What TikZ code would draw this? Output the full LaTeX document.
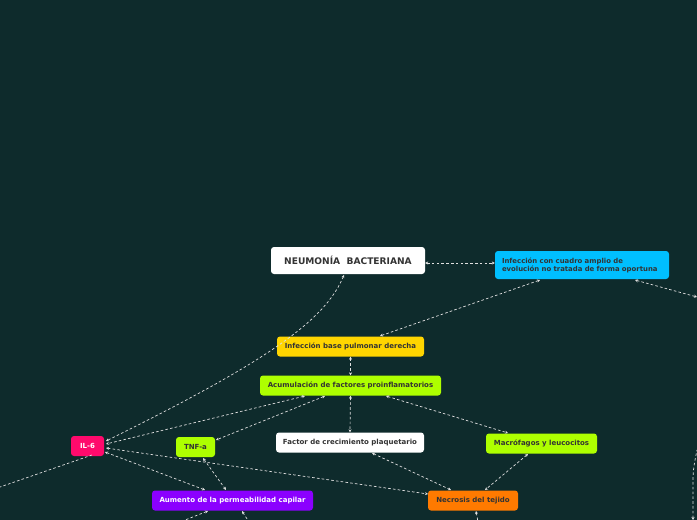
\documentclass[tikz,border=0pt]{standalone}
\usepackage{fontspec}
\setmainfont{DejaVu Sans}
\usetikzlibrary{arrows.meta,calc}
\definecolor{bg}{HTML}{0E2B2C}
\definecolor{cyanb}{HTML}{00BFFF}
\definecolor{yel}{HTML}{FFD500}
\definecolor{lime}{HTML}{AEFF00}
\definecolor{pink}{HTML}{FF0A6C}
\definecolor{purp}{HTML}{8B00FF}
\definecolor{oran}{HTML}{FF7A00}
\definecolor{txt}{HTML}{333333}
\tikzset{
  box/.style={rectangle, rounded corners=3pt, inner sep=0pt, align=center,
    font=\fontsize{7}{8}\selectfont\bfseries, text=txt},
  conn/.style={draw=white!88!black, line width=0.7pt, dash pattern=on 2.6pt off 2.2pt,
    {Stealth[length=3pt,width=3pt]}-{Stealth[length=3pt,width=3pt]}},
}
\begin{document}
\begin{tikzpicture}[x=1pt,y=-1pt]
\fill[bg] (0,0) rectangle (697,520);
\useasboundingbox (0,0) rectangle (697,520);
\node[box, fill=white, minimum width=154, minimum height=27,
  font=\fontsize{9.1}{10}\selectfont\bfseries] (neu) at (348,260.5) {NEUMONÍA\ \ BACTERIANA};
\node[box, fill=cyanb, minimum width=174, minimum height=28, align=left,
  font=\fontsize{6.9}{8}\selectfont\bfseries, text width=160] (inf) at (582,265)
  {Infección con cuadro amplio de\\evolución no tratada de forma oportuna};
\node[box, fill=yel, minimum width=147, minimum height=20] (base) at (350.5,346.5) {Infección base pulmonar derecha};
\node[box, fill=lime, minimum width=181, minimum height=20] (acum) at (350.5,385.5) {Acumulación de factores proinflamatorios};
\node[box, fill=pink, minimum width=33, minimum height=20, text=white] (il6) at (87.5,446) {IL-6};
\node[box, fill=lime, minimum width=39, minimum height=20] (tnf) at (195.5,447) {TNF-a};
\node[box, fill=white, minimum width=148, minimum height=20] (fac) at (350,442.5) {Factor de crecimiento plaquetario};
\node[box, fill=lime, minimum width=111, minimum height=20] (mac) at (541.5,443.5) {Macrófagos y leucocitos};
\node[box, fill=purp, minimum width=161, minimum height=20, text=white] (aum) at (232.5,500.5) {Aumento de la permeabilidad capilar};
\node[box, fill=oran, minimum width=90, minimum height=20] (nec) at (473,500.5) {Necrosis del tejido};

\coordinate (offL) at (0,487);
\coordinate (offR) at (697,297);
\coordinate (offR2) at (697,450);
\coordinate (offR2b) at (693,520);
\coordinate (offA1) at (180,522);
\coordinate (offA2) at (249,522);
\coordinate (offN) at (478,522);

\draw[conn] ($(neu.east)+(0,2.5)$) -- ($(inf.west)+(0,-2)$);
\draw[conn] (540,280) -- (380,336);
\draw[conn] (635,280) -- (offR);
\draw[conn, {Stealth[length=3pt,width=3pt]}-] (offR2b) -- (693,490) .. controls (693,470) .. (offR2);
\draw[conn] (344,275) .. controls (325,320) and (270,360) .. (106,441);
\draw[conn] (base.south) -- (acum.north);
\draw[conn] (acum.south) -- (fac.north);
\draw[conn] (305,396) -- (106,444);
\draw[conn] (325,396) -- (216,440);
\draw[conn] (386,396) -- (508,433);
\draw[conn] (372,453) -- (451,490);
\draw[conn] (528,454) -- (485,490);
\draw[conn] (106,448) -- (428,494);
\draw[conn] (105,452) -- (205,490);
\draw[conn] (203,458) -- (226,490);
\draw[conn, -] (92,455) -- (offL);
\draw[conn, {Stealth[length=3pt,width=3pt]}-] (208,511) -- (offA1);
\draw[conn, {Stealth[length=3pt,width=3pt]}-] (242,511) -- (offA2);
\draw[conn, {Stealth[length=3pt,width=3pt]}-] (476,511) -- (offN);
\end{tikzpicture}
\end{document}
